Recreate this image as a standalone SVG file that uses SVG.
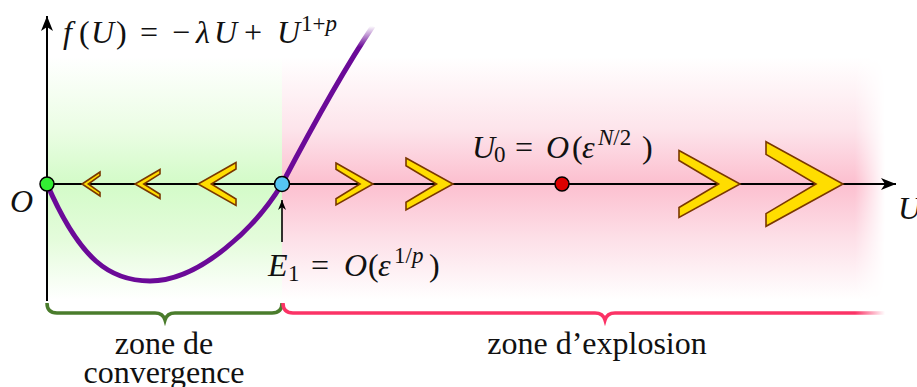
<svg xmlns="http://www.w3.org/2000/svg" width="917" height="387" viewBox="0 0 917 387">
<style>
.t{font-family:"Liberation Serif","Times New Roman",serif;font-size:32px;fill:#111}
.i{font-style:italic}
.s{font-size:23px}
.ax{stroke:#000;stroke-width:2;fill:none}
.chev{fill:#ffdd00;stroke:#7a3800;stroke-width:1.6;stroke-linejoin:miter}
.dot{stroke:#000;stroke-width:1.5}
</style>
<defs>
<linearGradient id="gGreen" gradientUnits="userSpaceOnUse" x1="0" y1="57" x2="0" y2="300">
<stop offset="0" stop-color="#ffffff"/>
<stop offset="0.3" stop-color="#ebfde4"/>
<stop offset="0.52" stop-color="#d3fbc8"/>
<stop offset="0.75" stop-color="#e4fcdb"/>
<stop offset="1" stop-color="#ffffff"/>
</linearGradient>
<linearGradient id="gPink" gradientUnits="userSpaceOnUse" x1="0" y1="57" x2="0" y2="300">
<stop offset="0" stop-color="#ffffff"/>
<stop offset="0.3" stop-color="#fde4eb"/>
<stop offset="0.52" stop-color="#fcbfcf"/>
<stop offset="0.75" stop-color="#fde0e8"/>
<stop offset="1" stop-color="#ffffff"/>
</linearGradient>
<linearGradient id="gFadeX" gradientUnits="userSpaceOnUse" x1="855" y1="0" x2="885" y2="0">
<stop offset="0" stop-color="#fff"/>
<stop offset="1" stop-color="#000"/>
</linearGradient>
<mask id="mRight" maskUnits="userSpaceOnUse" x="0" y="0" width="917" height="387">
<rect x="0" y="0" width="917" height="387" fill="url(#gFadeX)"/>
</mask>
<linearGradient id="gCurve" gradientUnits="userSpaceOnUse" x1="0" y1="47" x2="0" y2="26">
<stop offset="0" stop-color="#6b0a98"/>
<stop offset="1" stop-color="#6b0a98" stop-opacity="0"/>
</linearGradient>
<linearGradient id="gBrace" gradientUnits="userSpaceOnUse" x1="855" y1="0" x2="885" y2="0">
<stop offset="0" stop-color="#fb3366"/>
<stop offset="1" stop-color="#fb3366" stop-opacity="0"/>
</linearGradient>
<marker id="arr" viewBox="-16 -7 17 14" refX="0" refY="0" markerWidth="17" markerHeight="14" markerUnits="userSpaceOnUse" orient="auto">
<path d="M0,0 L-15,-6 L-11,0 L-15,6 Z" fill="#000"/>
</marker>
<marker id="arrS" viewBox="-11 -5 12 10" refX="0" refY="0" markerWidth="12" markerHeight="10" markerUnits="userSpaceOnUse" orient="auto">
<path d="M0,0 L-10,-4 L-7,0 L-10,4 Z" fill="#000"/>
</marker>
</defs>

<g id="zones">
<rect x="47" y="57" width="235" height="243" fill="url(#gGreen)"/>
<rect x="282" y="57" width="603" height="243" fill="url(#gPink)" mask="url(#mRight)"/>
</g>

<g id="connectors">
<line class="ax" x1="47" y1="301" x2="47" y2="16" marker-end="url(#arr)"/>
<line class="ax" x1="47" y1="184" x2="896" y2="184" marker-end="url(#arr)"/>
<line x1="282" y1="242" x2="282" y2="200" stroke="#000" stroke-width="1.6" marker-end="url(#arrS)"/>
</g>

<g id="curve">
<path d="M47,184 C80,260 110,281 150,281 C200,281 256,227 282,184 C302,146 340,75 373,26" fill="none" stroke="url(#gCurve)" stroke-width="5"/>
</g>

<g id="chevrons">
<polygon class="chev" points="100,172 82,184 100,196 100,192.4 88.3,184 100,175.6"/>
<polygon class="chev" points="160,169.5 135,184 160,198.5 160,194.2 143.8,184 160,173.9"/>
<polygon class="chev" points="236,162.5 198,184 236,205.5 236,199 211.3,184 236,169"/>
<polygon class="chev" points="336,163 373,184 336,205 336,198.7 360,184 336,169.3"/>
<polygon class="chev" points="406,158 453,184 406,210 406,202.2 436.5,184 406,165.8"/>
<polygon class="chev" points="679,150.5 740,184 679,217.5 679,207.5 718.6,184 679,160.5"/>
<polygon class="chev" points="766,141.7 843,184 766,226.3 766,213.6 816,184 766,154.4"/>
</g>

<g id="node-O">
<circle class="dot" cx="47" cy="184" r="7" fill="#33ee33"/>
<text class="t i" x="10" y="212">O</text>
</g>
<g id="node-E1">
<circle class="dot" cx="282" cy="184" r="7.5" fill="#55c5f2"/>
<text class="t" y="276"><tspan class="i" x="268">E</tspan><tspan class="s" x="288" dy="5">1</tspan><tspan x="311" dy="-5">=</tspan><tspan class="i" x="344">O</tspan><tspan x="368">(</tspan><tspan class="i" x="378">ε</tspan><tspan class="s" x="394" dy="-13">1/</tspan><tspan class="s i">p</tspan><tspan x="429" dy="13">)</tspan></text>
</g>
<g id="node-U0">
<circle class="dot" cx="562" cy="184" r="7" fill="#dd0000"/>
<text class="t" y="158"><tspan class="i" x="472">U</tspan><tspan class="s" x="494" dy="4">0</tspan><tspan x="515" dy="-4">=</tspan><tspan class="i" x="546">O</tspan><tspan x="572">(</tspan><tspan class="i" x="582">ε</tspan><tspan class="s i" x="598" dy="-13">N</tspan><tspan class="s">/2</tspan><tspan x="642" dy="13">)</tspan></text>
</g>
<g id="label-f">
<text class="t" y="43"><tspan class="i" x="63">f</tspan><tspan x="79">(</tspan><tspan class="i" x="91">U</tspan><tspan x="116">)</tspan><tspan x="140">=</tspan><tspan x="172">−</tspan><tspan class="i" x="196">λ</tspan><tspan class="i" x="214">U</tspan><tspan x="244">+</tspan><tspan class="i" x="277">U</tspan><tspan class="s" x="301" dy="-12">1+</tspan><tspan class="s i">p</tspan></text>
</g>
<g id="node-Uaxis">
<text class="t i" x="898" y="219">U</text>
</g>

<g id="braces">
<path d="M47,303 Q47,313 57,313 L155,313 Q163,313 165,320 Q167,313 175,313 L272,313 Q282,313 282,303" fill="none" stroke="#4a7c2c" stroke-width="3.5"/>
<path d="M283,303 Q283,313 293,313 L595,313 Q603,313 605,320 Q607,313 615,313 L885,313" fill="none" stroke="url(#gBrace)" stroke-width="3.5"/>
<text class="t" x="164" y="354" text-anchor="middle">zone de</text>
<text class="t" x="164" y="383" text-anchor="middle">convergence</text>
<text class="t" x="597" y="354" text-anchor="middle">zone d’explosion</text>
</g>
</svg>
